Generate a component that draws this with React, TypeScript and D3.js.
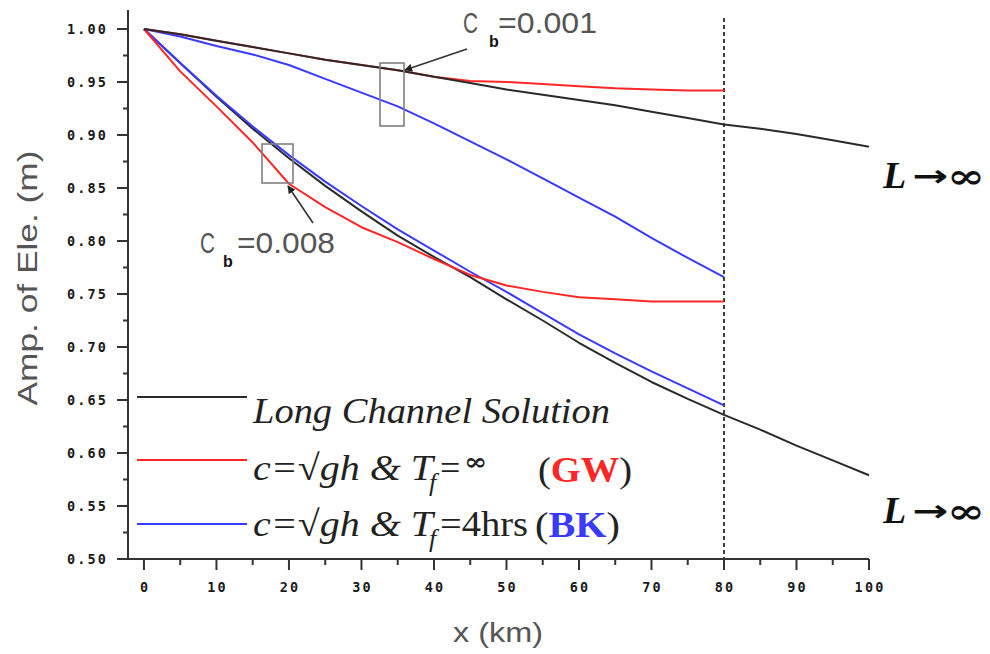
import React from "react";
import * as d3 from "d3";

// ---- data ----
const xFull = [0, 5, 10, 15, 20, 25, 30, 35, 40, 45, 50, 55, 60, 65, 70, 75, 80, 85, 90, 95, 100];
const xShort = [0, 5, 10, 15, 20, 25, 30, 35, 40, 45, 50, 55, 60, 65, 70, 75, 80];

// Cb = 0.001
const longUpper = [1.0, 0.995, 0.989, 0.983, 0.977, 0.971, 0.966, 0.961, 0.955, 0.949, 0.943, 0.938, 0.933, 0.928, 0.922, 0.916, 0.91, 0.906, 0.901, 0.895, 0.889];
const gwUpper = [1.0, 0.995, 0.989, 0.983, 0.977, 0.971, 0.966, 0.961, 0.955, 0.951, 0.95, 0.948, 0.946, 0.944, 0.943, 0.942, 0.942];
const bkUpper = [1.0, 0.993, 0.984, 0.976, 0.966, 0.953, 0.94, 0.927, 0.911, 0.894, 0.877, 0.859, 0.841, 0.823, 0.803, 0.784, 0.766];

// Cb = 0.008
const longLower = [1.0, 0.968, 0.936, 0.906, 0.878, 0.852, 0.828, 0.805, 0.785, 0.766, 0.745, 0.725, 0.704, 0.685, 0.667, 0.651, 0.636, 0.622, 0.607, 0.593, 0.579];
const gwLower = [1.0, 0.96, 0.927, 0.893, 0.854, 0.832, 0.813, 0.799, 0.783, 0.768, 0.758, 0.752, 0.747, 0.745, 0.743, 0.743, 0.743];
const bkLower = [1.0, 0.968, 0.937, 0.908, 0.881, 0.856, 0.833, 0.811, 0.791, 0.771, 0.752, 0.732, 0.712, 0.694, 0.677, 0.661, 0.645];

const xTicks = [0, 10, 20, 30, 40, 50, 60, 70, 80, 90, 100];
const yTicks = [0.5, 0.55, 0.6, 0.65, 0.7, 0.75, 0.8, 0.85, 0.9, 0.95, 1.0];
const dashedAt = 80;

const BLACK = "#2a2a2a";
const RED = "#ff2626";
const BLUE = "#3a3aff";

export default function App() {
  const x = d3.scaleLinear().domain([-2.2, 100]).range([128, 869]);
  const y = d3.scaleLinear().domain([0.5, 1.0]).range([559, 29]);
  const yTop = 1.018;

  const line = (xs: number[], ys: number[]) =>
    d3.line<number>().x((_, i) => x(xs[i])).y((d) => y(d))(ys) || "";

  const xMinor = d3.range(5, 100, 10);
  const yMinor = d3.range(0.525, 1.0, 0.05);

  const tickFont = {
    fontFamily: "DejaVu Sans Mono",
    fontWeight: 700,
    fontSize: 13.5,
    letterSpacing: 2.2,
    fill: "#1a1a1a",
  } as const;

  return (
    <svg
      width={990}
      height={654}
      viewBox="0 0 990 654"
      style={{ position: "absolute", left: 0, top: 0, background: "#fff" }}
    >
      <defs>
        <marker id="ah" viewBox="0 0 10 10" refX="9" refY="5" markerWidth="5" markerHeight="5" orient="auto">
          <path d="M0,0 L10,5 L0,10 z" fill="#222" />
        </marker>
      </defs>

      {/* dashed vertical line */}
      <line x1={x(dashedAt)} x2={x(dashedAt)} y1={18} y2={y(0.5)} stroke="#111" strokeWidth={1.6} strokeDasharray="4,3" />

      {/* curves */}
      <g fill="none" strokeWidth={2} strokeLinejoin="round">
        <path d={line(xFull, longLower)} stroke={BLACK} />
        <path d={line(xShort, bkLower)} stroke={BLUE} />
        <path d={line(xShort, gwLower)} stroke={RED} />
        <path d={line(xShort, bkUpper)} stroke={BLUE} />
        <path d={line(xShort, gwUpper)} stroke={RED} />
        <path d={line(xFull, longUpper)} stroke={BLACK} />
      </g>

      {/* axes */}
      <g stroke="#333" strokeWidth={2}>
        <line x1={x(-2.2)} x2={x(-2.2)} y1={y(yTop)} y2={y(0.5)} />
        <line x1={x(-2.2)} x2={x(100)} y1={y(0.5)} y2={y(0.5)} />
        {yTicks.map((t) => (
          <line key={"yt" + t} x1={117} x2={128} y1={y(t)} y2={y(t)} />
        ))}
        {yMinor.map((t) => (
          <line key={"ym" + t} x1={123} x2={128} y1={y(t)} y2={y(t)} />
        ))}
        {xTicks.map((t) => (
          <line key={"xt" + t} x1={x(t)} x2={x(t)} y1={559} y2={570} />
        ))}
        {xMinor.map((t) => (
          <line key={"xm" + t} x1={x(t)} x2={x(t)} y1={559} y2={565} />
        ))}
      </g>
      {yTicks.map((t) => (
        <text key={"yl" + t} x={106} dx={2.2} y={y(t)} dy="0.36em" textAnchor="end" style={tickFont}>
          {d3.format(".2f")(t)}
        </text>
      ))}
      {xTicks.map((t) => (
        <text key={"xl" + t} x={x(t)} dx={1.1} y={592} textAnchor="middle" style={tickFont}>
          {t}
        </text>
      ))}

      {/* axis titles */}
      <text
        transform="translate(37,278) rotate(-90)"
        textAnchor="middle"
        fontFamily="Liberation Sans"
        fontSize={27}
        fill="#555"
        textLength={255}
        lengthAdjust="spacingAndGlyphs"
      >
        Amp. of Ele. (m)
      </text>
      <text x={453} y={642} fontFamily="Liberation Sans" fontSize={27} fill="#555" textLength={90} lengthAdjust="spacingAndGlyphs">
        x (km)
      </text>

      {/* annotation boxes and arrows */}
      <g fill="none" stroke="#808080" strokeWidth={1.6}>
        <rect x={380} y={63} width={24} height={63} />
        <rect x={262} y={144} width={31} height={39} />
      </g>
      <line x1={467} y1={49} x2={405} y2={70} stroke="#333" strokeWidth={1.6} markerEnd="url(#ah)" />
      <line x1={313} y1={223} x2={288} y2={186} stroke="#333" strokeWidth={1.6} markerEnd="url(#ah)" />

      {/* Cb labels */}
      <g fontFamily="Liberation Sans" fill="#555">
        <text x={463} y={33} fontSize={30} textLength={15} lengthAdjust="spacingAndGlyphs">C</text>
        <text x={489} y={47} fontSize={16} fontWeight={700} fill="#111">b</text>
        <text x={498} y={33} fontSize={30} textLength={99} lengthAdjust="spacingAndGlyphs">=0.001</text>

        <text x={200} y={253} fontSize={30} textLength={15} lengthAdjust="spacingAndGlyphs">C</text>
        <text x={223} y={267} fontSize={16} fontWeight={700} fill="#111">b</text>
        <text x={237} y={253} fontSize={30} textLength={98} lengthAdjust="spacingAndGlyphs">=0.008</text>
      </g>

      {/* L -> infinity labels */}
      {[188, 523].map((by) => (
        <g key={"L" + by} fill="#111" fontWeight={700}>
          <text x={883} y={by} fontFamily="Liberation Serif" fontStyle="italic" fontSize={38}>L</text>
          <text x={912} y={by - 2} fontFamily="DejaVu Sans" fontSize={30} textLength={36} lengthAdjust="spacingAndGlyphs">→</text>
          <text x={947} y={by} fontFamily="DejaVu Serif" fontSize={34} textLength={38} lengthAdjust="spacingAndGlyphs">∞</text>
        </g>
      ))}

      {/* legend */}
      <g strokeWidth={2}>
        <line x1={137} x2={247} y1={397} y2={397} stroke={BLACK} />
        <line x1={137} x2={247} y1={460} y2={460} stroke={RED} />
        <line x1={137} x2={247} y1={524} y2={524} stroke={BLUE} />
      </g>
      <g fontFamily="Liberation Serif" fill="#222">
        <text x={253} y={423} fontSize={36} fontStyle="italic" textLength={357} lengthAdjust="spacingAndGlyphs">
          Long Channel Solution
        </text>

        <text x={253} y={480} fontSize={36} fontStyle="italic" textLength={180} lengthAdjust="spacingAndGlyphs">
          c=√gh &amp; T
        </text>
        <text x={429} y={491} fontSize={26} fontStyle="italic">f</text>
        <text x={440} y={480} fontSize={36}>=</text>
        <text x={464} y={470} fontFamily="DejaVu Serif" fontSize={24} fontWeight={700} textLength={23} lengthAdjust="spacingAndGlyphs">∞</text>
        <text x={538} y={482} fontSize={36} textLength={94} lengthAdjust="spacingAndGlyphs">
          (<tspan fill={RED} fontWeight={700}>GW</tspan>)
        </text>

        <text x={253} y={536} fontSize={36} fontStyle="italic" textLength={180} lengthAdjust="spacingAndGlyphs">
          c=√gh &amp; T
        </text>
        <text x={429} y={547} fontSize={26} fontStyle="italic">f</text>
        <text x={440} y={536} fontSize={36} textLength={88} lengthAdjust="spacingAndGlyphs">=4hrs</text>
        <text x={535} y={537} fontSize={36} textLength={85} lengthAdjust="spacingAndGlyphs">
          (<tspan fill={BLUE} fontWeight={700}>BK</tspan>)
        </text>
      </g>
    </svg>
  );
}
